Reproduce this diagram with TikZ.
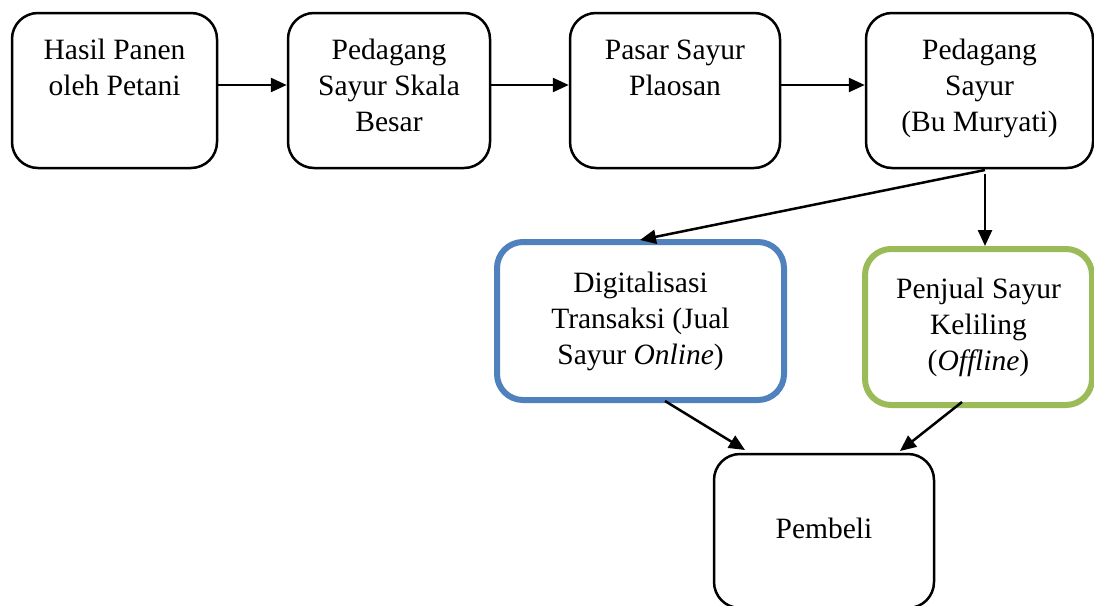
\documentclass[tikz,border=0pt]{standalone}
\usepackage{fontspec}
\setmainfont{Liberation Serif}
\usetikzlibrary{arrows.meta}
\definecolor{boxblue}{HTML}{4F81BD}
\definecolor{boxgreen}{HTML}{9BBB59}
\newcommand{\toptext}[3]{\parbox[c][#1pt][t]{#2pt}{\centering\rule{0pt}{46pt}#3}}
\begin{document}
\begin{tikzpicture}[x=1pt,y=-1pt,
  every node/.style={font=\fontsize{29.5}{36}\selectfont},
  flowbox/.style={draw=black,line width=2.5pt,rounded corners=26pt,inner sep=0pt,fill=white},
  blubox/.style={draw=boxblue,line width=6pt,rounded corners=26pt,inner sep=0pt,align=center,minimum width=287pt,minimum height=158pt},
  grnbox/.style={draw=boxgreen,line width=6pt,rounded corners=26pt,inner sep=0pt,align=center,minimum width=227pt,minimum height=156pt},
  endbox/.style={draw=black,line width=2.5pt,rounded corners=26pt,inner sep=0pt,align=center,minimum width=220pt,minimum height=154pt},
  flowarrow/.style={draw=black,line width=2.5pt,-{Triangle[length=16pt,width=14pt]}}]
\useasboundingbox (0,0) rectangle (1094,605);
\clip (0,0) rectangle (1094,605);
\node[flowbox] (b1) at (114.5,90.5) {\toptext{155}{205}{Hasil Panen\\oleh Petani}};
\node[flowbox] (b2) at (389,90.5) {\toptext{155}{202}{Pedagang\\Sayur Skala\\Besar}};
\node[flowbox] (b3) at (675,90.5) {\toptext{155}{210}{Pasar Sayur\\Plaosan}};
\node[flowbox] (b4) at (979.5,90.5) {\toptext{155}{227}{Pedagang\\Sayur\\(Bu Muryati)}};
\node[blubox] (dig) at (640.5,321) {Digitalisasi\\Transaksi (Jual\\Sayur \textit{Online})};
\node[grnbox] (pen) at (978.5,327) {Penjual Sayur\\Keliling\\(\textit{Offline})};
\node[endbox] (beli) at (824,531) {\raisebox{6pt}{Pembeli}};
\coordinate (s1) at (985,170);
\coordinate (s2) at (985,174);
\coordinate (t1) at (640,240);
\coordinate (t2) at (985,246);
\coordinate (s3) at (665,401);
\coordinate (t3) at (745,450);
\coordinate (s4) at (962,402);
\coordinate (t4) at (900,451);
\draw[flowarrow] ([yshift=5.5pt]b1.east) -- ([yshift=5.5pt]b2.west);
\draw[flowarrow] ([yshift=5.5pt]b2.east) -- ([yshift=5.5pt]b3.west);
\draw[flowarrow] ([yshift=5.5pt]b3.east) -- ([yshift=5.5pt]b4.west);
\draw[flowarrow] (s1) -- (t1);
\draw[flowarrow] (s2) -- (t2);
\draw[flowarrow] (s3) -- (t3);
\draw[flowarrow] (s4) -- (t4);
\end{tikzpicture}
\end{document}
